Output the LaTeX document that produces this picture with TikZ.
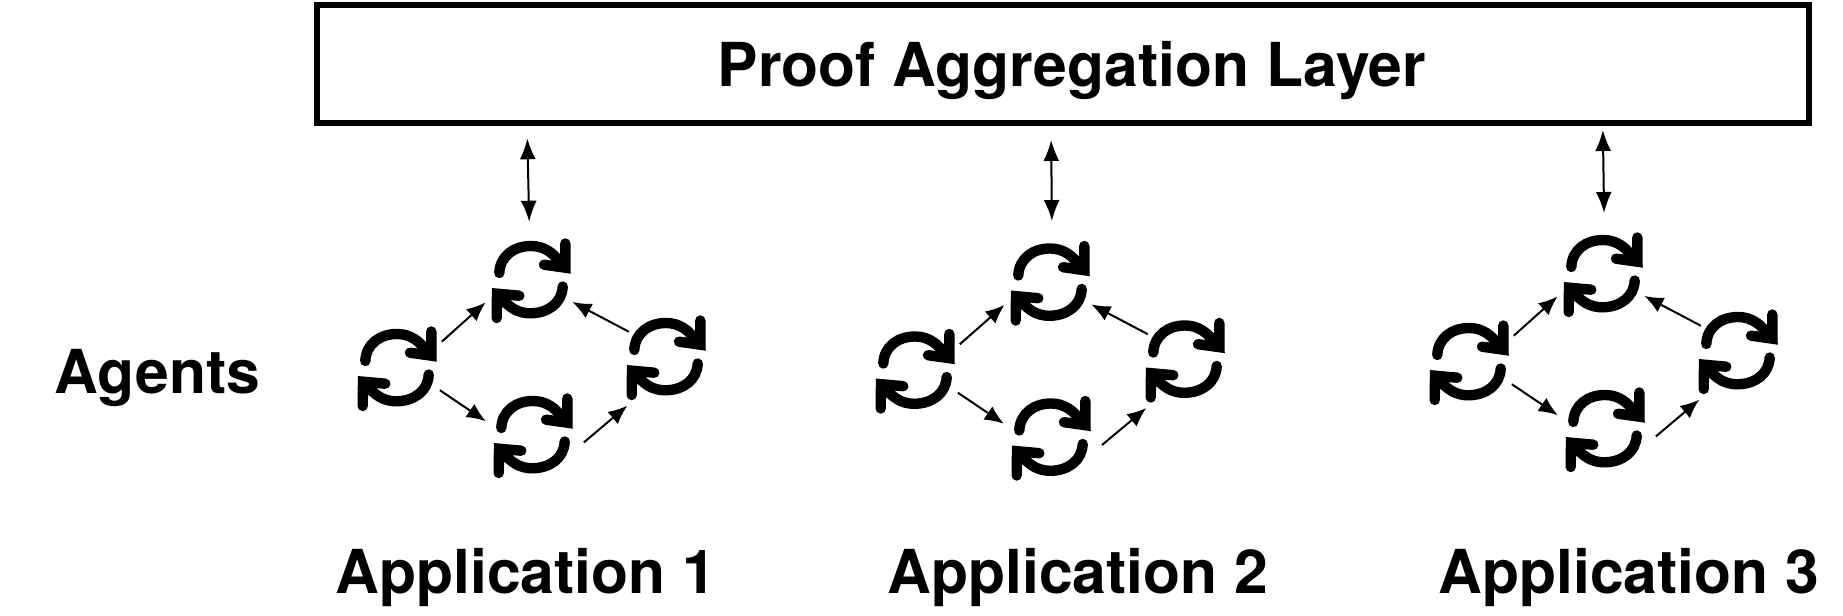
\documentclass[tikz,border=0pt]{standalone}
\usepackage{fontspec}
\setmainfont{TeX Gyre Heros}
\usetikzlibrary{arrows.meta,calc}

\tikzset{
  heading/.style={font=\fontsize{30.3}{36}\selectfont\bfseries,anchor=base,inner sep=0},
  layerbox/.style={draw,line width=3pt,outer sep=0,minimum width=746pt,minimum height=59.25pt},
  link/.style={line width=1pt,-{Latex[length=9.5pt,width=8pt]}},
  hublink/.style={line width=1pt,{Latex[length=10.5pt,width=8pt]}-{Latex[length=10.5pt,width=8pt]}},
  agent/.pic={
    \node (-ring) [circle,minimum size=40pt,inner sep=0,outer sep=0] at (0,0) {};
    \draw[line width=5.2pt,line cap=round,miter limit=10]
      (-31.7,7)
      .. controls (-31,24) and (-17,34) .. (0,34)
      .. controls (13,34) and (23,27) .. (30,16)
      (34.3,36.5)
      --
      (34.5,12.3)
      --
      (13,15.3);
    \draw[line width=5.2pt,line cap=round,miter limit=10]
      (31.7,-6.5)
      .. controls (31,-23) and (17,-33.3) .. (-1,-33.3)
      .. controls (-13,-33.3) and (-23,-27) .. (-30,-17)
      (-34.3,-38)
      --
      (-34,-13.7)
      --
      (-11.7,-15.7);
  }
}

\begin{document}
\begin{tikzpicture}[x=0.5pt,y=0.5pt]
  \useasboundingbox
    (0,0)
    rectangle
    (1843,616);
  \node (proof) [layerbox] at (1062.5,551.75) {};
  \node (prooftext) [heading] at (1072,529) {Proof Aggregation Layer};
  \node (agentstext) [heading] at (157.5,222) {Agents};
  \node (app1) [heading] at (526,22) {Application 1};
  \node (app2) [heading] at (1078,22) {Application 2};
  \node (app3) [heading] at (1629,22) {Application 3};

  % first application
  \pic (top1) at (531,336) {agent};
  \pic (left1) at (397,248) {agent};
  \pic (right1) at (666,259) {agent};
  \pic (bottom1) at (533,181) {agent};
  \draw[link,shorten <=6.1pt,shorten >=5.6pt]
    (left1-ring.27.1)
    --
    (top1-ring.202.5);
  \draw[link,shorten <=2.5pt,shorten >=3.4pt]
    (right1-ring.145.5)
    --
    (top1-ring.332);
  \draw[link,shorten <=4.2pt,shorten >=4.9pt]
    (left1-ring.334.5)
    --
    (bottom1-ring.168.9);
  \draw[link,shorten <=11.6pt,shorten >=11.45pt]
    (bottom1-ring.326.2)
    --
    (right1-ring.238);
  \draw[hublink,shorten <=7.4pt,shorten >=9.15pt]
    ($(proof.south west)!0.1411!(proof.south east)$)
    --
    (top1-ring.92.4);

  % second application
  \pic (top2) at (1050,333.5) {agent};
  \pic (left2) at (915,245.5) {agent};
  \pic (right2) at (1185,256.5) {agent};
  \pic (bottom2) at (1051,178.5) {agent};
  \draw[link,shorten <=6.1pt,shorten >=5.6pt]
    (left2-ring.27.1)
    --
    (top2-ring.202.5);
  \draw[link,shorten <=2.5pt,shorten >=3.4pt]
    (right2-ring.145.5)
    --
    (top2-ring.332);
  \draw[link,shorten <=4.2pt,shorten >=4.9pt]
    (left2-ring.334.5)
    --
    (bottom2-ring.168.9);
  \draw[link,shorten <=11.6pt,shorten >=11.45pt]
    (bottom2-ring.326.2)
    --
    (right2-ring.238);
  \draw[hublink,shorten <=8.25pt,shorten >=10.75pt]
    ($(proof.south west)!0.4923!(proof.south east)$)
    --
    (top2-ring.87);

  % third application
  \pic (top3) at (1603,342) {agent};
  \pic (left3) at (1469,254) {agent};
  \pic (right3) at (1738,265) {agent};
  \pic (bottom3) at (1605,187) {agent};
  \draw[link,shorten <=6.1pt,shorten >=5.6pt]
    (left3-ring.27.1)
    --
    (top3-ring.202.5);
  \draw[link,shorten <=2.5pt,shorten >=3.4pt]
    (right3-ring.145.5)
    --
    (top3-ring.332);
  \draw[link,shorten <=4.2pt,shorten >=4.9pt]
    (left3-ring.334.5)
    --
    (bottom3-ring.168.9);
  \draw[link,shorten <=11.6pt,shorten >=11.45pt]
    (bottom3-ring.326.2)
    --
    (right3-ring.238);
  \draw[hublink,shorten <=3.25pt,shorten >=10.5pt]
    ($(proof.south west)!0.8621!(proof.south east)$)
    --
    (top3-ring.88.6);
\end{tikzpicture}
\end{document}
